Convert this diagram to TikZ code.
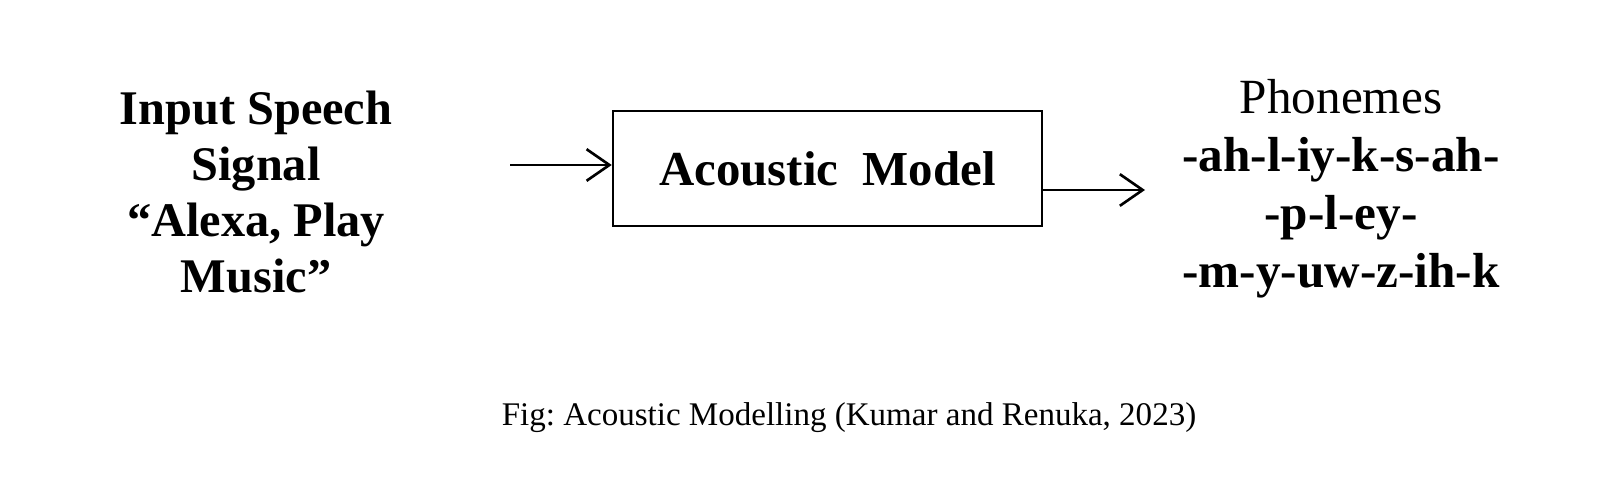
\documentclass[tikz,border=0pt]{standalone}
\usepackage{fontspec}
\setmainfont{Liberation Serif}
\frenchspacing
\usetikzlibrary{arrows.meta}
\tikzset{
  bigtxt/.style={align=center,font=\fontsize{27.5}{32}\selectfont\bfseries,inner sep=0pt},
  modelbox/.style={draw,line width=1.5pt,minimum width=8.58cm,minimum height=2.3cm,inner sep=0pt,
    font=\fontsize{27.8}{32}\selectfont\bfseries},
  flow/.style={line width=1.5pt,-{Straight Barb[length=13pt,width=18pt,line width=1.5pt]}}
}
\begin{document}
\begin{tikzpicture}[x=0.02cm,y=-0.02cm]
\useasboundingbox (0,0) rectangle (1608,500);
% left text
\node[bigtxt] (input) at (256,192) {Input Speech\\Signal\\``Alexa, Play\\Music''};
% model
\node[modelbox] (model) at (827.5,168.5) {Acoustic\ \ Model};
\coordinate (start) at (510,165);
\coordinate (stop) at (1145,190);
\draw[flow] (start) -- (model.west |- start);
\draw[flow] (model.east |- stop) -- (stop);
% right text
\node[bigtxt,font=\fontsize{28}{33}\selectfont] (phon) at (1341,189)
  {Phonemes\\\textbf{-ah-l-iy-k-s-ah-}\\\textbf{-p-l-ey-}\\\textbf{-m-y-uw-z-ih-k}};
% caption
\node[font=\fontsize{18.8}{22}\selectfont] (cap) at (849,418) {Fig: Acoustic Modelling (Kumar and Renuka, 2023)};
\end{tikzpicture}
\end{document}
